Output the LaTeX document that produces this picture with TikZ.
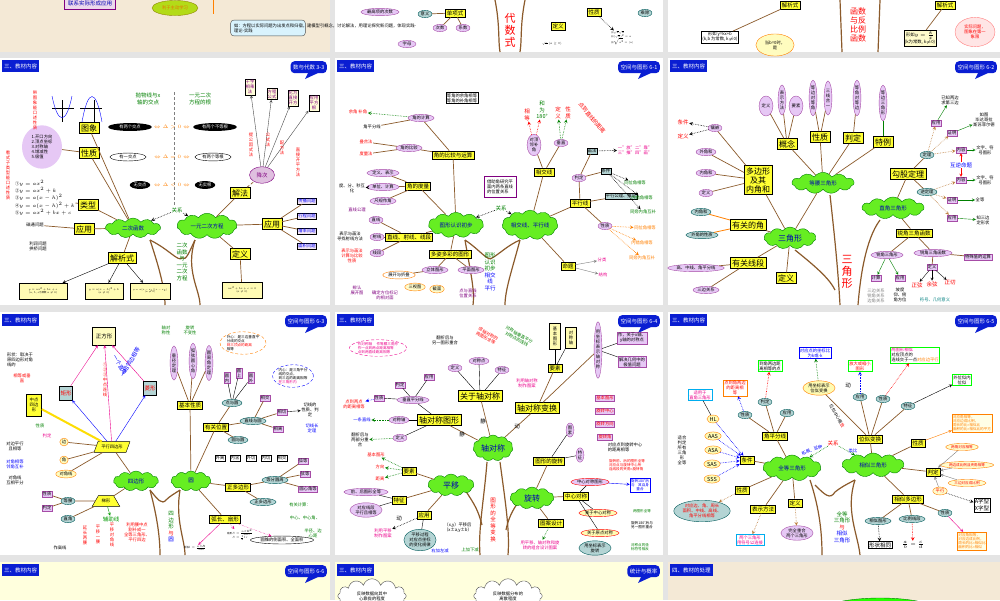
\documentclass[tikz,border=0pt]{standalone}
\usepackage{fontspec}
\setmainfont{Noto Sans CJK SC}
\usetikzlibrary{shapes.geometric,shapes.symbols,shapes.callouts}
\newcommand\fa{\fontsize{5.5}{6.5}\selectfont}
\newcommand\fb{\fontsize{8}{9}\selectfont}
\newcommand\fc{\fontsize{4.3}{5}\selectfont}
\newcommand\fe{\fontsize{3.6}{4.2}\selectfont}
\newcommand\fd{\fontsize{11}{12}\selectfont}
\definecolor{hdrblue}{HTML}{0A1ED2}
\definecolor{gapgray}{HTML}{E4E4E4}
\definecolor{beige}{HTML}{F4E9D6}
\definecolor{paleyel}{HTML}{FFFFDD}
\definecolor{trunk}{HTML}{8B5A2B}
\definecolor{cloudg}{HTML}{66EE22}
\definecolor{pinkel}{HTML}{E6C8F5}
\definecolor{tealel}{HTML}{B4D4D4}
\definecolor{yelbox}{HTML}{FFFF33}
\tikzset{
 hdr/.style={fill=hdrblue,text=white,font=\fa,inner sep=2pt,minimum height=12pt},
 tagn/.style={fill=hdrblue,text=white,font=\fa,inner sep=2.5pt,rounded corners=4pt,minimum height=12pt},
 yb/.style={draw=black,fill=yelbox,font=\fa,inner sep=1.6pt},
 ybb/.style={draw=black,fill=yelbox,font=\fb,inner sep=1.8pt},
 pe/.style={ellipse,draw=violet!70,fill=pinkel,font=\fc,inner sep=0.6pt},
 te/.style={ellipse,draw=teal!70!black,fill=tealel,font=\fc,inner sep=0.6pt},
 be/.style={ellipse,fill=black,text=white,font=\fc,inner sep=0.8pt},
 we/.style={ellipse,draw=black,fill=white,font=\fc,inner sep=0.8pt},
 pb/.style={draw=violet!70,fill=pinkel,font=\fc,inner sep=1pt},
 gb/.style={draw=black,fill=tealel,font=\fc,inner sep=1pt},
 wb/.style={draw=black,fill=white,font=\fc,inner sep=1pt,align=center},
 cl/.style={cloud,cloud puffs=11,cloud puff arc=110,aspect=2.4,draw=green!50!black,fill=cloudg,text=blue!70!black,font=\fa,inner sep=0pt},
 br/.style={draw=trunk,line width=0.7pt},
 tk/.style={draw=trunk,line width=1.2pt},
 dar/.style={densely dotted,->,>=stealth,line width=0.6pt},
 tx/.style={font=\fc,inner sep=0.5pt,align=center},
 vt/.style={font=\fb,align=center,inner sep=0pt},
}
\newcommand\slidebg[6]{%
 \fill[#5] (#1,#2) rectangle (#3,#4);
 \node[hdr,anchor=north west] (h#6) at ({#1+2},{#2+2}) {三、教材内容};
}
\newcommand\slidetag[4]{%
 \node[tagn,anchor=north east] (#4) at ({#1-3},{#2+3}) {#3};
 \fill[hdrblue] ({#1-22},{#2+15}) -- ({#1-12},{#2+15}) -- ({#1-25},{#2+21}) -- cycle;
}
\begin{document}
\begin{tikzpicture}[x=1pt,y=-1pt]
\useasboundingbox (0,0) rectangle (1000,600);
\fill[gapgray] (0,0) rectangle (1000,600);
%% ===== Row 1 (cut) =====
\fill[beige] (0,0) rectangle (330,52);
\fill[white] (335,0) rectangle (663,52);
\fill[white] (668,0) rectangle (1000,52);
\node[draw=violet,fill=violet!15,text=blue!70!black,font=\fa] (r1a) at (90,3) {联系实际形成应用};
\node[ellipse,draw=olive,fill=yellow!70!green,text=orange!90!black,font=\fc,minimum width=44pt] (r1b) at (175,8) {利于主动学习};
\draw[orange,line width=1pt] (213,0) -- (213,14);
\node[draw=black!70,fill=cyan!15,rounded corners=3pt,font=\fc,align=left,text width=68pt] (r1c) at (268,28) {如：方程以实际问题为出发点和归宿，建模型引概念，讨论解法，用理论探究新问题，体现实践-理论-实践};
\node[yb] (r1d) at (455,13) {单项式};
\node[te] (r1e) at (425,14) {意义};
\node[pe] (r1f) at (440,28) {次数};
\node[pe] (r1g) at (463,28) {系数};
\node[pe,minimum width=18pt] (r1h) at (407,44) {字母};
\node[pe] (r1i) at (380,12) {最高项的次数};
\draw[br] (r1e) -- (r1d); \draw[br] (r1d) -- (r1f); \draw[br] (r1d) -- (r1g);
\node[vt,text=red,font=\fd] (r1j) at (510,30) {代\\数\\式};
\draw[tk] (495,0) .. controls (500,25) and (498,40) .. (500,52);
\draw[tk] (525,0) .. controls (520,25) and (522,40) .. (520,52);
\node[yb] (r1k) at (558,26) {定义};
\node[yb] (r1l) at (594,12) {性质};
\node[te] (r1m) at (645,13) {乘除};
\node[tx] (r1n) at (552,44) {\scalebox{0.6}{$\sqrt{a}\,(a\geq0)$}};
\node[tx,align=left] (r1o) at (622,38) {\scalebox{0.55}{\begin{tabular}{@{}l@{}}(1)$\sqrt{a}\sqrt{a}$\\(2)$(\sqrt{a})^2=a$\\(3)$\sqrt{a^2}=|a|$\end{tabular}}};
\draw[dar] (r1l) -- (r1o);
\node[yb] (r1p) at (790,5) {解析式};
\node[wb] (r1q) at (720,37) {形如 y=kx+b\\(k,b 为常数, k$\neq$0)};
\node[ellipse,draw=orange,fill=yellow!25,font=\fc,align=center] (r1r) at (775,45) {当b=0时，\\是};
\draw[br] (r1p) -- (r1q);
\node[vt,text=red] (r1s) at (858,25) {函数\\与反\\比例\\函数};
\draw[tk] (840,0) -- (842,52); \draw[tk] (880,0) -- (878,52);
\node[yb] (r1t) at (945,5) {解析式};
\node[wb,fill=yellow!20] (r1u) at (920,38) {形如$y=\frac{k}{x}$\\(k为常数, k$\neq$0)};
\node[ellipse,draw=red!50,fill=red!10,text=red,font=\fc,align=center] (r1v) at (975,32) {实际问题，\\图象在第一\\象限};
\draw[br] (r1t) -- (r1u);
%% ===== Row 2 =====
\slidebg{0}{58}{330}{305}{white}{a}
\slidetag{330}{58}{数与代数 3-3}{ta}
\slidebg{335}{58}{663}{305}{white}{b}
\slidetag{663}{58}{空间与图形 6-1}{tb}
\slidebg{668}{58}{1000}{305}{white}{c}
\slidetag{1000}{58}{空间与图形 6-2}{tc}
%% --- slide 3-3
\draw[tk] (150,240) .. controls (160,270) and (165,290) .. (165,305);
\draw[tk] (195,240) .. controls (185,270) and (200,290) .. (200,305);
\draw[tk] (150,240) .. controls (170,250) and (178,262) .. (182,258) .. controls (186,262) and (190,250) .. (195,240);
\node[cl,minimum width=55pt,minimum height=20pt] (qa) at (133,228) {二次函数};
\node[cl,minimum width=60pt,minimum height=18pt] (qb) at (207,226) {一元二次方程};
\node[tx,text=green!50!black,font=\fa] (qc) at (177,210) {关系};
\draw[dar] (qc) -- (qa); \draw[dar] (qc) -- (qb);
\node[vt,text=green!50!black,font=\fa] (qd) at (182,262) {二次\\函数\\与\\一元\\二次\\方程};
\node[ybb] (qe) at (89,128) {图象};
\node[ybb] (qf) at (89,153) {性质};
\node[ybb] (qg) at (88,205) {类型};
\node[ybb] (qh) at (84,229) {应用};
\node[ybb] (qi) at (122,258) {解析式};
\node[ybb] (qj) at (240,254) {定义};
\node[ybb] (qk) at (240,193) {解法};
\node[ybb] (ql) at (272,224) {应用};
\foreach \n in {qe,qf,qg,qh,qi} \draw[br] (qa) -- (\n);
\draw[br] (qb) -- (qj); \draw[br] (qb) -- (qk); \draw[br] (qb) -- (ql);
\node[tx,text=green!50!black,font=\fa] (qm) at (148,99) {抛物线与x\\轴的交点};
\node[tx,text=green!50!black,font=\fa] (qn) at (200,99) {一元二次\\方程的根};
\draw[densely dashed,gray] (174,92) -- (174,205);
\node[be,minimum width=44pt] (qo) at (130,127) {有两个交点};
\node[be,minimum width=44pt] (qp) at (215,127) {有两个不等根};
\node[we,minimum width=36pt] (qq) at (128,157) {有一交点};
\node[we,minimum width=36pt] (qr) at (213,157) {有两个等根};
\node[be] (qs) at (140,185) {无交点};
\node[be] (qt) at (205,185) {无实根};
\node[tx,text=orange,font=\fa] (qu) at (172,127) {$\Leftrightarrow\Delta>0\Leftrightarrow$};
\node[tx,text=orange,font=\fa] (qv) at (172,157) {$\Leftrightarrow\Delta=0\Leftrightarrow$};
\node[tx,text=orange,font=\fa] (qw) at (172,185) {$\Leftrightarrow\Delta<0\Leftrightarrow$};
\node[ellipse,fill=pinkel,font=\fc,align=left,minimum width=40pt,minimum height=34pt] (qx) at (42,147) {1.开口方向\\2.顶点坐标\\3.对称轴\\4.增减性\\5.极值};
\draw[br] (qx) -- (qf);
\node[tx,align=left,font=\fc] (qy) at (45,198) {①$y=ax^2$\\②$y=ax^2+k$\\③$y=a(x-h)^2$\\④$y=a(x-h)^2+k$\\⑤$y=ax^2+bx+c$};
\draw[br] (qy) -- (qg);
\node[tx,font=\fc] (qz) at (35,225) {磁通问题};
\node[tx,font=\fc] (qza) at (38,246) {利润问题\\拱桥问题};
\draw[br] (qz) -- (qh);
\node[ellipse,draw=violet,fill=violet!25,text=violet,font=\fa] (qzb) at (262,175) {降次};
\draw[br,densely dashed] (qk) -- (qzb);
\node[wb,fill=yellow!15,text=violet] (qzc) at (250,87) {十字\\相乘\\法};
\node[wb,fill=yellow!15,text=violet] (qzd) at (272,94) {方程\\公式};
\node[wb,fill=yellow!15,text=violet] (qze) at (293,98) {化为\\直接\\开方};
\node[wb,fill=yellow!15,text=violet] (qzf) at (314,103) {应用\\平方\\根};
\foreach \n in {qzc,qzd,qze,qzf}{\draw[->,>=stealth,black!70] (qzb) -- (\n);}
\node[tx,text=red,font=\fc] (qzg) at (251,145) {提\\公\\因\\式\\法};
\node[tx,text=red,font=\fc] (qzh) at (268,140) {公\\式\\法};
\node[tx,text=red,font=\fc] (qzi) at (282,148) {配\\方\\法};
\node[tx,text=red,font=\fc] (qzj) at (298,162) {直\\接\\开\\平\\方\\法};
\node[wb,fill=violet!10,text=blue] (qzk) at (307,201) {传播问题};
\node[wb,fill=violet!10,text=blue] (qzl) at (307,216) {行程问题};
\node[wb,fill=violet!10,text=blue] (qzm) at (307,231) {增率问题};
\node[wb,fill=violet!10,text=blue] (qzn) at (307,246) {面积问题};
\foreach \n in {qzk,qzl,qzm,qzn} \draw[br] (ql) -- (\n);
\node[wb,fill=yellow!30,minimum width=48pt,minimum height=16pt] (qzo) at (43,291) {\scalebox{0.55}{\begin{tabular}{@{}c@{}}$y=ax^2+bx+c$\\($a,b,c$为常数 $a\neq0$)\end{tabular}}};
\node[wb,fill=yellow!30,minimum width=38pt,minimum height=16pt] (qzp) at (104,291) {\scalebox{0.55}{\begin{tabular}{@{}c@{}}$y=a(x-h)^2+k$\\($a\neq0$)\end{tabular}}};
\node[wb,fill=yellow!30,minimum width=40pt,minimum height=16pt] (qzq) at (150,291) {\scalebox{0.5}{\begin{tabular}{@{}c@{}}$y=a(x-x_1)(x-x_2)$\\($a\neq0$)\end{tabular}}};
\node[wb,fill=yellow!30,minimum width=40pt,minimum height=16pt] (qzr) at (242,290) {\scalebox{0.55}{\begin{tabular}{@{}c@{}}$ax^2+bx+c=0$\\($a\neq0$)\end{tabular}}};
\draw[->,>=stealth] (qi) -- (qzo); \draw[->,>=stealth] (qi) -- (qzp); \draw[->,>=stealth] (qi) -- (qzq);
\draw[br] (qj) -- (qzr);
\node[tx,text=red,font=\fc] (qzs) at (35,110) {带\\图\\象\\能\\口\\述\\性\\质};
\node[tx,text=red,font=\fc] (qzt) at (8,175) {看\\式\\子\\类\\型\\能\\口\\述\\性\\质};
\draw[thick] (62,100) -- (62,122) (52,108) -- (74,108);
\draw[blue] (52,96) .. controls (58,125) and (66,125) .. (72,96);
\draw[thick] (94,100) -- (94,122) (80,108) -- (102,108);
\draw[blue] (82,122) .. controls (88,88) and (96,88) .. (102,122);
%% --- slide 6-1
\draw[tk] (465,240) .. controls (470,270) and (475,290) .. (473,305);
\draw[tk] (520,240) .. controls (512,270) and (505,290) .. (505,305);
\draw[tk] (465,240) .. controls (480,250) and (488,262) .. (492,258) .. controls (498,255) and (508,245) .. (520,240);
\node[cl,minimum width=55pt,minimum height=20pt] (sa) at (456,225) {图形认识初步};
\node[cl,minimum width=55pt,minimum height=20pt] (sb) at (530,225) {相交线、平行线};
\node[tx,text=green!50!black,font=\fa] (sc) at (501,208) {关系};
\draw[dar] (sc) -- (sa); \draw[dar] (sc) -- (sb);
\node[draw=violet,fill=white,font=\fc,align=left] (sd) at (500,187) {借助角研究平\\面内两条直线\\的位置关系};
\node[vt,text=green!50!black,font=\fa] (se) at (490,272) {图形\\认识\\初步\\\textcolor{blue}{相交}\\\textcolor{blue}{线}\\\textcolor{blue}{平行}};
\node[pe] (sf) at (421,118) {角的计算};
\node[yb] (sg) at (453,155) {角的比较与运算};
\node[pe] (sh) at (409,148) {角的比较};
\node[yb] (si) at (418,186) {角的度量};
\node[pe] (sj) at (383,173) {定义、表示};
\node[pe] (sk) at (383,187) {单位、计算};
\node[pe] (sl) at (383,201) {尺规作角};
\node[tx] (sm) at (352,188) {度、分、秒互\\化};
\node[yb] (sn) at (409,237) {直线、射线、线段};
\node[pe] (so) at (376,220) {直线};
\node[pe] (sp) at (377,237) {射线};
\node[pe] (sq) at (377,253) {线段};
\node[yb] (sr) at (450,254) {多姿多彩的图形};
\node[pe] (ss) at (435,270) {立体图形};
\node[pe] (st) at (471,270) {平面图形};
\node[we,draw=orange] (su) at (399,275) {展开与折叠};
\node[tx,text=red] (sv) at (358,112) {余角 补角};
\node[tx] (sw) at (372,127) {角平分线};
\node[tx,text=red] (sx) at (366,142) {叠合法};
\node[tx,text=red] (sy) at (366,154) {度量法};
\node[wb] (sz) at (462,98) {等角的余角相等\\等角的补角相等};
\node[tx,text=violet] (sza) at (357,210) {直线公理};
\node[tx] (szb) at (350,236) {表示与画法\\寻找射线方法};
\node[tx,text=red] (szc) at (352,256) {表示与画法\\计算与比较\\性质};
\node[tx,text=violet] (szd) at (357,290) {辨认\\展开图};
\node[tx,text=violet] (sze) at (385,295) {确定方位标记\\的相对面};
\node[tx,text=violet] (szf) at (468,293) {点与直线\\位置关系};
\node[we,draw=orange,fill=yellow!20] (szg) at (415,287) {三视图};
\node[we,draw=orange,fill=yellow!20] (szh) at (437,289) {截面};
\foreach \a/\b in {sa/sg,sa/si,sa/sn,sa/sr,sg/sf,sg/sh,si/sj,si/sk,si/sl,sn/so,sn/sp,sn/sq,sr/ss,sr/st,ss/su,sf/sw,sh/sx,sh/sy}\draw[br] (\a) -- (\b);
\draw[dar,green!50!black] (sf) -- (sv);
\draw[dar] (sk) -- (sm);
\node[yb] (szi) at (544,172) {相交线};
\node[pe,align=center] (szj) at (534,145) {对顶\\邻补\\角};
\node[pe] (szk) at (561,143) {垂直};
\node[gb] (szl) at (592,151) {画法};
\node[pe] (szm) at (579,178) {判定};
\node[gb] (szn) at (606,171) {条件};
\node[gb] (szo) at (621,196) {平行公理、推论};
\node[yb] (szp) at (580,203) {平行线};
\node[pe] (szq) at (605,226) {性质};
\node[yb] (szr) at (568,266) {命题};
\foreach \a/\b in {sb/szi,sb/szp,sb/szr,szi/szj,szi/szk,szp/szm,szp/szo,szp/szq,szm/szl,szm/szn}\draw[br] (\a) -- (\b);
\node[tx,text=red,font=\fa] (szs) at (527,115) {相\\等};
\node[tx,text=green!50!black,font=\fa] (szt) at (542,110) {和\\为\\180°};
\node[tx,text=red,font=\fa] (szu) at (558,113) {定\\义};
\node[tx,text=red,font=\fa] (szv) at (568,113) {性\\质};
\node[tx,text=red,font=\fa,rotate=-50] (szw) at (592,118) {点到直线的距离};
\node[tx,text=magenta,font=\fc] (szx) at (635,150) {一"放"二"靠"\\三"推"四"画"};
\node[tx,text=green!50!black] (szy) at (635,183) {同位角相等};
\node[tx,text=green!50!black] (szz) at (642,198) {内错角相等};
\node[tx,text=green!50!black] (s1a) at (643,212) {同旁内角互补};
\node[tx,text=orange] (s1b) at (645,228) {同位角相等};
\node[tx,text=orange] (s1c) at (642,243) {内错角相等};
\node[tx,text=orange] (s1d) at (642,258) {同旁内角互补};
\node[tx,text=magenta] (s1e) at (602,260) {分类};
\node[tx,text=magenta] (s1f) at (603,275) {结构};
\foreach \b in {szs,szt} \draw[dar,red] (szj) -- (\b);
\foreach \b in {szu,szv} \draw[dar,green!50!black] (szk) -- (\b);
\draw[dar] (szl) -- (szx);
\foreach \b in {szy,szz,s1a} \draw[dar] (szn) -- (\b);
\foreach \b in {s1b,s1c,s1d} \draw[dar,orange] (szq) -- (\b);
\foreach \b in {s1e,s1f} \draw[->,>=stealth,gray] (szr) -- (\b);
%% --- slide 6-2
\draw[tk] (830,195) .. controls (835,240) and (838,270) .. (840,305);
\draw[tk] (795,250) .. controls (820,270) and (830,280) .. (835,290);
\draw[tk] (880,220) .. controls (865,240) and (860,280) .. (858,305);
\node[cl,minimum width=62pt,minimum height=20pt] (ta1) at (823,183) {等腰三角形};
\node[cl,minimum width=62pt,minimum height=22pt] (ta2) at (893,208) {直角三角形};
\node[cl,minimum width=52pt,minimum height=22pt,font=\fb] (ta3) at (790,238) {三角形};
\node[vt,text=red,font=\fd] (ta4) at (847,272) {三\\角\\形};
\node[ybb] (tb1) at (787,144) {概念};
\node[ybb] (tb2) at (820,137) {性质};
\node[ybb] (tb3) at (853,138) {判定};
\node[ybb] (tb4) at (883,142) {特例};
\foreach \n in {tb1,tb2,tb3,tb4} \draw[br] (ta1) -- (\n);
\node[pe,minimum height=20pt] (tc1) at (766,106) {定\\义};
\node[pe,align=center,minimum height=30pt] (tc2) at (782,100) {表\\示\\方\\法};
\node[pe,minimum height=20pt] (tc3) at (796,106) {要\\素};
\node[pe,align=center,minimum height=34pt] (tc4) at (813,98) {等\\边\\对\\等\\角};
\node[pe,align=center,minimum height=34pt] (tc5) at (828,98) {三\\线\\合\\一};
\node[pe,align=center,minimum height=34pt] (tc6) at (857,98) {等\\角\\对\\等\\边};
\node[pe,align=center,minimum height=34pt] (tc7) at (883,103) {等\\边\\三\\角\\形};
\foreach \a/\b in {tb1/tc1,tb1/tc2,tb1/tc3,tb2/tc4,tb2/tc5,tb3/tc6}\draw[br] (\a) -- (\b);
\draw[green!50!black,thick] (tb4) -- (tc7);
\node[ybb,align=center] (td1) at (758,180) {多边形\\及其\\内角和};
\node[pe] (td2) at (715,128) {镶嵌};
\node[pe] (td3) at (706,152) {外角和};
\node[pe] (td4) at (706,173) {内角和};
\node[pe] (td5) at (706,193) {定义};
\node[tx,text=red,font=\fa] (td6) at (683,122) {条件};
\node[tx,text=red,font=\fa] (td7) at (683,136) {定义};
\draw[dar] (td2) -- (td6); \draw[dar] (td2) -- (td7);
\foreach \n in {td2,td3,td4,td5} \draw[br] (td1) -- (\n);
\node[ybb] (te1) at (748,225) {有关的角};
\node[te] (te2) at (701,212) {内角和};
\node[te] (te3) at (702,235) {外角的性质};
\draw[orange,thick] (te1) -- (te2); \draw[orange,thick] (te1) -- (te3);
\node[ybb] (tf1) at (748,263) {有关线段};
\node[pe] (tf2) at (696,268) {高、中线、角平分线};
\node[pe] (tf3) at (706,290) {三边关系};
\draw[br] (tf1) -- (tf2); \draw[br] (tf1) -- (tf3);
\node[ybb] (tg1) at (786,278) {定义};
\foreach \n in {td1,te1,tf1,tg1} \draw[br] (ta3) -- (\n);
\draw[br] (ta3) -- (ta1);
\node[ybb] (th1) at (908,174) {勾股定理};
\node[yb] (th2) at (914,233) {锐角三角函数};
\draw[br] (ta2) -- (th1); \draw[br] (ta2) -- (th2);
\node[te] (th3) at (927,155) {定理};
\node[te] (th4) at (927,192) {逆定理};
\node[pb] (th5) at (961,150) {内容};
\node[pb] (th6) at (961,180) {内容};
\node[tx,text=blue,font=\fa] (th7) at (961,165) {互逆命题};
\node[pb] (th8) at (936,123) {应用};
\node[pb] (th9) at (952,133) {证明};
\node[pb] (th10) at (952,200) {证明};
\node[pb] (th11) at (952,218) {应用};
\draw[br] (th1) -- (th3); \draw[br] (th1) -- (th4);
\draw[dar,brown] (th3) -- (th8); \draw[dar,brown] (th3) -- (th9); \draw[dar,brown] (th3) -- (th5);
\draw[dar,brown] (th4) -- (th6); \draw[dar,brown] (th4) -- (th10); \draw[dar,brown] (th4) -- (th11);
\draw[->,>=stealth,red] (th7) -- (th5); \draw[->,>=stealth,red] (th7) -- (th6);
\node[tx] (th12) at (950,100) {已知两边\\求第三边};
\node[tx] (th13) at (984,120) {如图\\毕达哥拉\\斯苏菲尔德};
\node[tx] (th14) at (985,150) {文字、符\\号图形};
\node[tx] (th15) at (985,180) {文字、符\\号图形};
\node[tx] (th16) at (980,200) {全等};
\node[tx] (th17) at (983,220) {知三边\\定形状};
\draw[->,>=stealth,green!50!black] (th8) -- (th12); \draw[->,>=stealth,green!50!black] (th9) -- (th13);
\draw[->,>=stealth,green!50!black] (th5) -- (th14); \draw[->,>=stealth,green!50!black] (th6) -- (th15);
\draw[->,>=stealth,green!50!black] (th10) -- (th16); \draw[->,>=stealth,green!50!black] (th11) -- (th17);
\node[pe] (ti1) at (887,255) {锐角三角形};
\node[pe] (ti2) at (933,253) {锐角三角函数};
\node[pb] (ti3) at (978,257) {特殊值的运算};
\node[pb] (ti4) at (876,278) {计算};
\node[pb] (ti5) at (900,278) {应用};
\node[pb] (ti6) at (932,267) {定义};
\draw[br] (th2) -- (ti1); \draw[br] (th2) -- (ti2); \draw[br] (ti2) -- (ti3); \draw[br] (ti2) -- (ti6);
\draw[->,>=stealth,green!50!black] (ti1) -- (ti4); \draw[->,>=stealth,green!50!black] (ti1) -- (ti5);
\node[tx,text=gray] (ti7) at (876,296) {三边关系\\锐角关系\\边角关系};
\node[tx] (ti8) at (900,295) {坡度\\仰、俯\\角方位};
\node[tx,text=red,font=\fa] (ti9) at (917,285) {正弦};
\node[tx,text=red,font=\fa] (ti10) at (932,284) {余弦};
\node[tx,text=red,font=\fa] (ti11) at (950,283) {正切};
\node[tx,text=teal] (ti12) at (935,300) {符号、几何意义};
\foreach \b in {ti9,ti10,ti11} \draw[->,>=stealth] (ti6) -- (\b);
%% ===== Row 3 =====
\slidebg{0}{312}{330}{555}{white}{d}
\slidetag{330}{312}{空间与图形 6-3}{td}
\slidebg{335}{312}{663}{555}{white}{e}
\slidetag{663}{312}{空间与图形 6-4}{te}
\slidebg{668}{312}{1000}{555}{white}{f}
\slidetag{1000}{312}{空间与图形 6-5}{tf}
%% --- slide 6-3
\draw[tk] (150,490) .. controls (158,520) and (160,540) .. (160,555);
\draw[tk] (180,490) .. controls (175,520) and (185,540) .. (185,555);
\draw[tk] (150,490) .. controls (158,500) and (162,505) .. (166,500) .. controls (170,496) and (174,494) .. (180,490);
\node[cl,minimum width=45pt,minimum height=20pt,font=\fa] (ua) at (136,481) {四边形};
\node[cl,minimum width=40pt,minimum height=20pt] (ub) at (191,481) {圆};
\node[vt,text=green!50!black,font=\fa] (uc) at (171,527) {四\\边\\形\\\textcolor{red}{与}\\\textcolor{blue}{圆}};
\node[draw=black,fill=yellow!25,font=\fa,minimum width=22pt,minimum height=18pt] (ud) at (104,336) {正方形};
\node[gb,font=\fa,minimum height=14pt,text=red] (ue) at (66,393) {矩形};
\node[gb,font=\fa,minimum height=14pt,text=red] (uf) at (150,388) {菱形};
\node[draw=black,fill=yelbox,font=\fc,align=center,minimum height=22pt] (ug) at (34,405) {中点\\四边\\形};
\node[trapezium,trapezium left angle=70,trapezium right angle=110,draw=black,fill=yelbox,font=\fc] (uh) at (112,447) {平行四边形};
\node[trapezium,draw=black,fill=yelbox,font=\fc] (ui) at (106,501) {梯形};
\node[we,draw=orange,fill=yellow!25] (uj) at (64,442) {边};
\node[we,draw=orange,fill=yellow!25] (uk) at (64,460) {角};
\node[we,draw=orange,fill=yellow!25] (ul) at (66,474) {对角线};
\node[te] (um) at (68,501) {等腰};
\node[te] (un) at (68,519) {直角};
\node[pb] (uo) at (47,494) {性质};
\node[pb] (up) at (47,508) {判定};
\node[tx,text=green!60!black,font=\fa] (uq) at (111,519) {辅助线};
\draw[br] (ua) -- (uh); \draw[br] (ua) -- (ui);
\foreach \b in {uj,uk,ul} \draw[br] (uh) -- (\b);
\draw[br] (ui) -- (um); \draw[br] (ui) -- (un); \draw[br] (um) -- (uo); \draw[br] (um) -- (up);
\draw[->,>=stealth,green!60!black] (ui) -- (uq);
\draw[->,>=stealth,blue] (uh) -- (ue); \draw[->,>=stealth,blue] (uh) -- (uf);
\draw[->,>=stealth,magenta] (ue) -- (ud); \draw[->,>=stealth,magenta] (uf) -- (ud);
\draw[->,>=stealth,magenta] (uh) -- (ud);
\draw[yellow!80!orange,line width=2pt] (ug) -- (uh);
\node[tx,align=left] (ur) at (20,360) {形状：取决于\\原四边形对角\\线的};
\node[tx,text=red] (us) at (22,378) {相等或垂\\直};
\node[tx] (ut) at (15,446) {对边平行\\且相等};
\node[tx,text=blue] (uu) at (15,464) {对角相等\\邻角互补};
\node[tx] (uv) at (15,480) {对角线\\互相平分};
\node[tx,text=green!50!black] (uw) at (40,426) {性质};
\node[tx,text=magenta] (ux) at (47,436) {判定};
\node[tx,text=blue,font=\fa,rotate=-60] (uy) at (120,365) {一个直角};
\node[tx,text=blue,font=\fa,rotate=60] (uz) at (130,362) {一组邻边相等};
\node[tx,text=red,font=\fc] (u1a) at (105,380) {①\\②\\③\\中\\点\\连\\线};
\node[tx,text=black,font=\fc] (u1b) at (60,548) {作高线};
\node[tx,text=red,font=\fc] (u1c) at (85,535) {延\\长\\两\\腰};
\node[tx,text=red,font=\fc] (u1d) at (98,535) {平\\移\\一\\腰};
\node[tx,text=red,font=\fc] (u1e) at (112,535) {平\\移\\对\\角\\线};
\node[tx,text=red,font=\fc] (u1f) at (137,532) {利用腰中点\\割补成一\\全等三角形、\\平行四边};
\node[yb,font=\fa] (va) at (190,405) {基本性质};
\node[yb,font=\fa] (vb) at (216,427) {有关位置};
\node[yb,font=\fa] (vc) at (238,487) {正多边形};
\node[yb,font=\fa] (vd) at (225,519) {弧长、扇形};
\foreach \b in {va,vb,vc,vd} \draw[br] (ub) -- (\b);
\node[pe,align=center,minimum height=34pt] (ve) at (174,363) {垂\\径\\定\\理};
\node[pe,align=center,minimum height=34pt] (vf) at (193,361) {弧\\弦\\圆\\心\\角};
\node[pe,align=center,minimum height=34pt] (vg) at (209,363) {圆\\周\\角\\定\\理};
\foreach \b in {ve,vf,vg} \draw[br] (va) -- (\b);
\node[tx,text=green!50!black] (vh) at (166,330) {轴对\\称性};
\node[tx,text=green!50!black] (vi) at (190,330) {旋转\\不变性};
\node[te] (vj) at (232,403) {点与圆};
\node[te] (vk) at (253,421) {直线与圆};
\node[te] (vl) at (238,440) {圆与圆};
\foreach \b in {vj,vk,vl} \draw[br] (vb) -- (\b);
\node[pb,align=center] (vm) at (227,378) {圆\\内};
\node[pb,align=center] (vn) at (239,373) {圆\\上};
\node[pb,align=center] (vo) at (251,378) {圆\\外};
\foreach \b in {vm,vn,vo} \draw (vj) -- (\b);
\node[pb] (vp) at (265,398) {相交};
\node[pb] (vq) at (282,412) {相切};
\node[pb] (vr) at (278,429) {相离};
\foreach \b in {vp,vq,vr} \draw[br] (vk) -- (\b);
\node[tx] (vs) at (310,410) {切线的\\性质、判\\定};
\node[tx,text=blue] (vt) at (312,428) {切线长\\定理};
\draw[->,>=stealth] (vq) -- (vs);
\foreach \xx/\t in {220/外离,235/内含,251/外切,266/内切,282/相交}{\node[wb,align=center] at (\xx,458) {\t};}
\node[pb] (vu) at (303,461) {弧等};
\node[pb] (vv) at (305,474) {弦等};
\node[pb] (vw) at (308,489) {圆心角等};
\node[te] (vx) at (275,480) {等分圆周};
\node[te] (vy) at (263,502) {正多边形};
\draw[br] (vc) -- (vx); \draw[br] (vc) -- (vy);
\foreach \b in {vu,vv,vw} \draw[br] (vx) -- (\b);
\node[tx,text=green!50!black] (vz) at (300,505) {有关计算：};
\node[tx,text=green!50!black] (w1a) at (305,518) {中心、中心角、};
\node[tx,text=green!50!black] (w1b) at (313,533) {半径、边\\心距};
\node[draw=orange,densely dashed,ellipse,font=\fe,align=left,inner sep=0pt] (w1c) at (243,343) {外心：是三边垂直平\\分线的交点\\\textcolor{red}{到三顶点的距离}\\相等};
\node[draw=blue,densely dashed,ellipse,font=\fe,align=left,inner sep=0pt] (w1d) at (293,376) {内心：是三角平分\\线的交点，\\到三边的距离相等\\\textcolor{magenta}{在三角形内}};
\node[tx] (w1e) at (195,548) {\scalebox{0.6}{弧长$l=\frac{n\pi R}{180}$}};
\node[tx] (w1f) at (240,535) {\scalebox{0.6}{\begin{tabular}{@{}c@{}}扇形$S=\frac{n\pi R^2}{360}$\\$S=\frac12 lr$\end{tabular}}};
\node[we] (w1g) at (282,540) {圆锥的\\侧面积、全\\面积};
\draw[->,>=stealth,magenta] (vd) -- (w1e); \draw[->,>=stealth,magenta,densely dotted] (vd) -- (w1f);
\draw[->,>=stealth,magenta,densely dotted] (vd) -- (w1g);
%% --- slide 6-4
\draw[tk] (487,462) .. controls (484,500) and (478,530) .. (480,555);
\draw[tk] (500,462) .. controls (505,500) and (510,530) .. (508,555);
\draw[tk] (465,490) .. controls (475,505) and (478,510) .. (482,525);
\draw[tk] (520,500) .. controls (512,510) and (508,520) .. (506,530);
\node[cl,minimum width=40pt,minimum height=26pt,font=\fb] (xa) at (493,448) {轴对\\称};
\node[cl,minimum width=46pt,minimum height=22pt,font=\fb] (xb) at (451,485) {平移};
\node[cl,minimum width=44pt,minimum height=22pt,font=\fb] (xc) at (532,498) {旋转};
\node[vt,text=red,font=\fa] (xd) at (493,520) {图\\形\\的\\全\\等\\变\\换};
\node[ybb] (xe) at (480,396) {关于轴对称};
\node[ybb] (xf) at (439,420) {轴对称图形};
\node[ybb] (xg) at (537,408) {轴对称变换};
\draw[br] (xa) -- (xe); \draw[br] (xa) -- (xf); \draw[br] (xa) -- (xg);
\node[yb] (xh) at (555,368) {要素};
\node[draw=black,fill=yellow!30,font=\fc,align=center] (xi) at (555,336) {基\\本\\图\\形};
\node[draw=black,fill=yellow!30,font=\fc,align=center] (xj) at (571,338) {对\\称\\轴};
\draw (xh) -- (xi); \draw (xh) -- (xj); \draw[br] (xg) -- (xh);
\node[pe] (xk) at (455,368) {定义};
\node[pe] (xl) at (479,361) {对称点};
\node[pe] (xm) at (502,370) {特征};
\foreach \b in {xk,xl,xm} \draw (xe) -- (\b);
\node[tx,text=red,rotate=-30,font=\fc] (xn) at (487,336) {成轴对称的\\两图形全等};
\node[tx,text=green!50!black,rotate=-30,font=\fc] (xo) at (518,337) {对称轴垂直平分\\对称点的连线};
\node[tx,font=\fc] (xp) at (445,340) {翻折后与\\另一图形重合};
\node[pb] (xq) at (400,385) {判定};
\node[pb] (xr) at (429,377) {应用};
\node[pb] (xs) at (379,398) {性质};
\node[pe] (xt) at (413,400) {垂直平分线};
\node[pe] (xu) at (399,420) {对称轴};
\node[pe] (xv) at (400,438) {定义};
\draw (xf) -- (xt); \draw (xf) -- (xu); \draw (xf) -- (xv);
\draw (xt) -- (xq); \draw (xt) -- (xr); \draw (xt) -- (xs);
\node[tx,text=blue] (xw) at (362,420) {一条直线};
\draw[dar,green!50!black] (xu) -- (xw);
\node[tx] (xx) at (360,440) {翻折后与\\两部分重\\合};
\draw[dar,green!50!black] (xv) -- (xx);
\node[tx,text=red] (xy) at (354,404) {点到两点\\的距离相等};
\draw[dar,blue] (xs) -- (xy);
\node[draw=magenta,densely dashed,ellipse,font=\fe,align=left,text=magenta,inner sep=0pt] (xz) at (378,348) {作对称轴 \quad 作等腰三角形\\作一点到两点距离相等\\点到两直线距离相等};
\node[tx,text=black,font=\fa] (y1a) at (483,421) {静};
\node[tx,text=black,font=\fa] (y1b) at (517,426) {动};
\node[tx,text=black,font=\fa] (y1c) at (462,434) {静};
\node[tx,text=black,font=\fa] (y1d) at (399,518) {动};
\node[yb] (y1e) at (409,471) {要素};
\node[yb] (y1f) at (399,500) {特征};
\node[yb] (y1g) at (424,515) {应用};
\foreach \b in {y1e,y1f,y1g} \draw[br] (xb) -- (\b);
\node[tx,text=red] (y1h) at (376,455) {基本图形};
\node[tx,text=red] (y1i) at (380,467) {方向};
\node[tx,text=red] (y1j) at (380,479) {距离};
\foreach \b in {y1h,y1i,y1j} \draw[dar,green!50!black] (y1e) -- (\b);
\node[pe] (y1k) at (366,492) {前、后图形全等};
\node[pe,align=center] (y1l) at (366,510) {对应线段\\平行且相等};
\draw (y1f) -- (y1k); \draw (y1f) -- (y1l);
\node[tx,text=magenta] (y1m) at (383,533) {利用平移\\制作图案};
\node[te,align=center] (y1n) at (420,540) {平移过程\\对应点坐标\\的变化规律};
\node[tx] (y1o) at (458,528) {（x,y）平移后\\（x±a,y±b）};
\node[tx,text=blue] (y1p) at (440,551) {右加左减};
\node[tx,text=green!50!black] (y1q) at (470,550) {上加下减};
\draw[dar] (y1g) -- (y1m); \draw (y1g) -- (y1n);
\node[yb] (y1r) at (549,461) {图形的旋转};
\node[yb] (y1s) at (576,496) {中心对称};
\node[yb] (y1t) at (551,523) {图案设计};
\foreach \b in {y1r,y1s,y1t} \draw[br] (xc) -- (\b);
\node[pe,align=center] (y1u) at (570,430) {图\\素};
\node[pe,align=center] (y1v) at (580,455) {特\\征};
\draw (y1r) -- (y1u); \draw (y1r) -- (y1v);
\foreach \yy/\t in {398/基本图形,411/旋转中心,424/旋转方向,437/旋转角}{\node[pb,text=red] at (605,\yy) {\t};}
\node[tx,align=left] (y1w) at (625,447) {对应点到旋转中心\\的距离相等};
\node[tx,text=red,align=left,font=\fe] (y1x) at (627,465) {旋转前、后的图形全等\\对应点与旋转中心所\\连线段的夹角=旋转角};
\node[pe,draw=red] (y1y) at (590,482) {中心对称图形};
\node[wb,draw=blue,text=blue,font=\fe] (y1z) at (640,485) {旋转180°后\\与\quad 其自身\\重合};
\node[pe,draw=red,fill=yellow!30] (y2a) at (598,513) {关于中心对称};
\node[pe,draw=red,fill=yellow!30] (y2b) at (600,533) {关于原点对称};
\node[tx,font=\fe] (y2c) at (642,525) {旋转180°后与\\另一图形重合};
\node[tx,text=green!50!black,font=\fe] (y2d) at (642,511) {两图形全等};
\node[te,align=center] (y2e) at (595,548) {用坐标表示\\旋转};
\node[tx,text=green!50!black,font=\fe] (y2f) at (640,547) {对称点的坐\\标符号相反};
\draw (y1s) -- (y1y); \draw (y1s) -- (y2a); \draw (y1s) -- (y2b);
\draw[->,>=stealth,blue] (y1y) -- (y1z);
\node[tx,text=magenta] (y2g) at (540,545) {用平移、轴对称和旋\\转的组合设计图案};
\draw[dar,green!50!black] (y1t) -- (y2g);
\node[pe,align=center] (y2h) at (598,350) {用\\坐\\标\\表\\示\\轴\\对\\称};
\node[pb,align=center] (y2i) at (632,338) {作，关于x轴、\\y轴的对称点};
\node[pb,align=center] (y2j) at (632,362) {解决几何中的\\极值问题};
\draw (y2h) -- (y2i); \draw (y2h) -- (y2j); \draw[br] (xg) -- (y2h);
\node[tx,text=magenta] (y2k) at (527,383) {利用轴对称\\制作图案};
%% --- slide 6-5
\draw[tk] (810,480) .. controls (820,510) and (822,535) .. (822,555);
\draw[tk] (855,480) .. controls (845,510) and (858,535) .. (860,555);
\draw[tk] (815,485) .. controls (825,495) and (830,500) .. (835,492) .. controls (840,488) and (845,485) .. (855,480);
\node[cl,minimum width=58pt,minimum height=26pt] (za) at (792,468) {全等三角\\形};
\node[cl,minimum width=62pt,minimum height=24pt] (zb) at (873,465) {相似三角形};
\node[tx,text=red,font=\fa] (zc) at (833,443) {关系};
\node[tx,text=blue,rotate=20] (zc1) at (812,450) {拓展、延伸};
\node[tx,text=blue] (zc2) at (853,451) {类比};
\draw[dar,green!50!black] (zc) -- (za); \draw[dar,green!50!black] (zc) -- (zb);
\node[vt,text=green!50!black,font=\fa] (zd) at (842,527) {全等\\三角形\\\textcolor{red}{与}\\\textcolor{blue}{相似}\\\textcolor{blue}{三角形}};
\node[yb] (ze) at (775,436) {角平分线};
\node[yb] (zf) at (747,460) {条件};
\node[yb] (zg) at (742,490) {性质};
\node[yb] (zh) at (763,509) {表示方法};
\node[yb] (zi) at (795,503) {定义};
\foreach \b in {ze,zf,zg,zh,zi} \draw[br] (za) -- (\b);
\node[yb] (zj) at (870,439) {位似变换};
\node[yb] (zk) at (918,443) {性质};
\node[yb] (zl) at (933,472) {判定};
\node[yb] (zm) at (908,499) {相似多边形};
\foreach \b in {zj,zk,zl,zm} \draw[br] (zb) -- (\b);
\node[we,draw=orange,fill=yellow!30,font=\fa] (zn) at (713,419) {HL};
\node[we,draw=orange,fill=yellow!30,font=\fa] (zo) at (713,436) {AAS};
\node[we,draw=orange,fill=yellow!30,font=\fa] (zp) at (713,450) {ASA};
\node[we,draw=orange,fill=yellow!30,font=\fa] (zq) at (712,464) {SAS};
\node[we,draw=orange,fill=yellow!30,font=\fa] (zr) at (712,479) {SSS};
\foreach \b in {zn,zo,zp,zq,zr} \draw[dar,blue] (\b) -- (zf);
\node[tx,align=center] (zs) at (682,450) {适合\\判定\\所有\\三角\\形\\全等};
\node[wb,draw=cyan,text=magenta] (zt) at (700,395) {适用于\\直角三角形};
\draw (zn) -- (zt);
\node[te] (zu) at (745,415) {性质};
\node[te] (zv) at (765,402) {判定};
\node[te] (zw) at (787,413) {应用};
\foreach \b in {zu,zv,zw} \draw[br] (ze) -- (\b);
\node[wb,draw=orange,text=red] (zx) at (735,388) {点到角两边\\的距离相\\等};
\node[wb,draw=green,text=black] (zy) at (770,366) {到角两边距\\离相等的点};
\draw[dar,blue] (zu) -- (zx); \draw[dar,red] (zv) -- (zy);
\node[te,align=center,text=red] (zz) at (702,511) {对应边、角、周长\\面积、中线、高线、\\角平分线相等};
\draw[dar,brown] (zg) -- (zz);
\node[wb,draw=cyan,text=magenta] (z1a) at (750,540) {两个三角形\\用符号≌连接};
\draw[dar,brown] (zh) -- (z1a);
\node[pe,align=center] (z1b) at (797,533) {完全重合\\两个三角形};
\draw[dar,brown] (zi) -- (z1b);
\node[pe,draw=orange,fill=yellow!30,align=center] (z1c) at (819,388) {用坐标表示\\位似变换};
\node[te] (z1d) at (860,397) {应用};
\node[te] (z1e) at (883,399) {性质};
\node[te] (z1f) at (908,406) {特征};
\foreach \b in {z1c,z1d,z1e,z1f} \draw[br] (zj) -- (\b);
\node[tx,rotate=-60,text=black] (z1g) at (837,416) {位似中心缩\textcolor{red}{放}};
\node[wb,draw=blue,text=blue] (z1h) at (815,353) {对应点的坐标比\\为k或-k};
\node[wb,draw=green,text=red] (z1i) at (860,366) {放大或缩小\\图形};
\node[tx,font=\fa] (z1j) at (848,385) {动};
\node[wb,draw=green,align=left] (z1k) at (915,355) {\textcolor{magenta}{两图形相似}\\对应顶点的\\连线交于一点\textcolor{orange}{对应边平行}};
\node[wb,draw=green] (z1l) at (962,380) {外位似内\\位似};
\draw[dar,green!50!black] (z1c) -- (z1h); \draw[dar,blue] (z1d) -- (z1i); \draw[dar,red] (z1e) -- (z1k); \draw[->,>=stealth] (z1f) -- (z1l);
\node[wb,draw=orange,fill=yellow!10,text=orange,align=left,font=\fe] (z1m) at (972,423) {对应角相等，\\对应边成比例，\\周长的比=相似比\\面积的比=相似比的平方};
\draw[->,>=stealth,orange] (zk) -- (z1m);
\node[we,draw=orange,fill=yellow!20,text=red,font=\fe] (z1n) at (962,447) {两角对应\\相等};
\node[we,draw=orange,fill=yellow!20,text=red,font=\fe] (z1o) at (967,465) {两边成比例\\且夹角相等};
\node[we,draw=orange,fill=yellow!20,text=red,font=\fe] (z1p) at (967,483) {三边对应\\成比例};
\node[we,draw=orange,fill=yellow!20,text=red] (z1q) at (940,491) {平行};
\foreach \b in {z1n,z1o,z1p,z1q} \draw[->,>=stealth,gray] (\b) -- (zl);
\node[wb,font=\fa] (z1r) at (982,505) {A字型\\X字型};
\draw[dar] (z1q) -- (z1r);
\node[te] (z1s) at (878,521) {相似图形};
\node[te] (z1t) at (912,519) {比例线段};
\node[te] (z1u) at (945,513) {性质};
\foreach \b in {z1s,z1t,z1u} \draw[br] (zm) -- (\b);
\node[wb,font=\fa] (z1v) at (880,545) {形状相同};
\draw[dar] (z1s) -- (z1v);
\node[tx,font=\fa] (z1w) at (913,545) {$\frac{a}{b}=\frac{c}{d}$};
\draw[dar,red] (z1t) -- (z1w);
\node[wb,draw=orange,fill=yellow!10,text=orange,align=left,font=\fe] (z1x) at (972,541) {对应角相等，\\对应边成比例，\\周长的比=相似比\\面积的比=相似};
\draw[->,>=stealth,magenta] (z1u) -- (z1x);
%% ===== Row 4 (cut) =====
\fill[paleyel] (0,562) rectangle (330,600);
\node[hdr,anchor=north west] (hg) at (2,564) {三、教材内容};
\slidetag{330}{562}{空间与图形 6-6}{tg}
\fill[paleyel] (335,562) rectangle (663,600);
\node[hdr,anchor=north west] (hh) at (337,564) {三、教材内容};
\slidetag{663}{562}{统计与概率}{th}
\node[cloud,cloud puffs=12,aspect=3,draw=black!70,fill=white,font=\fc,align=center,minimum width=58pt] (ka) at (372,596) {反映数据向其中\\心靠拢的程度};
\node[cloud,cloud puffs=12,aspect=3,draw=black!70,fill=white,font=\fc,align=center,minimum width=50pt] (kb) at (508,596) {反映数据分布的\\离散程度};
\fill[beige] (668,562) rectangle (1000,600);
\node[hdr,anchor=north west] (hi) at (670,564) {四、教材的处理};
\fill[green!80!lime,draw=green!50!black] (880,618) ellipse (70 and 20);
\end{tikzpicture}
\end{document}
